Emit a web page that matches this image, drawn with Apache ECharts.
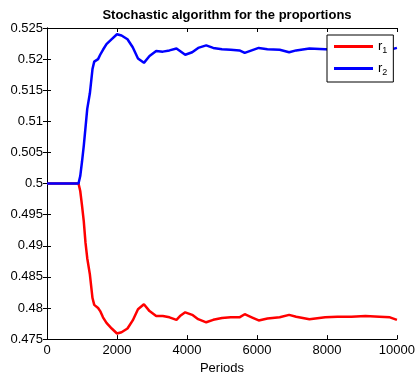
<!DOCTYPE html>
<html>
<head>
<meta charset="utf-8">
<script src="https://cdn.jsdelivr.net/npm/echarts@6/dist/echarts.min.js"></script>
<style>
  html, body { margin: 0; padding: 0; background: #fff; }
  #chart { width: 418px; height: 380px; }
</style>
</head>
<body>
<div id="chart"></div>
<script>
// periods sampled along the curves
const periods = [0, 500, 900, 950, 1000, 1050, 1100, 1150, 1225, 1300, 1350, 1400, 1460, 1520, 1600, 1700, 1850, 2000, 2130, 2300, 2450, 2600, 2770, 2930, 3120, 3310, 3500, 3700, 3800, 3950, 4150, 4320, 4550, 4750, 5000, 5250, 5500, 5650, 5850, 6050, 6300, 6650, 6920, 7120, 7500, 7950, 8300, 8700, 9100, 9500, 9800, 10000];

const r1 = [0.5, 0.5, 0.5, 0.4988, 0.4965, 0.4940, 0.4905, 0.4880, 0.4854, 0.4816, 0.4805, 0.4808, 0.4800, 0.4795, 0.4785, 0.4776, 0.4767, 0.4759, 0.4761, 0.4767, 0.4780, 0.4798, 0.4806, 0.4795, 0.4787, 0.4787, 0.4785, 0.4781, 0.4787, 0.4793, 0.4789, 0.4782, 0.4777, 0.4781, 0.4784, 0.4785, 0.4785, 0.4790, 0.4785, 0.4780, 0.4783, 0.4785, 0.4789, 0.4786, 0.4782, 0.4785, 0.4786, 0.4786, 0.4787, 0.4786, 0.4785, 0.4781];

const r2 = [0.5, 0.5, 0.5, 0.5012, 0.5035, 0.5060, 0.5090, 0.5120, 0.5145, 0.5184, 0.5196, 0.5193, 0.5200, 0.5207, 0.5215, 0.5224, 0.5232, 0.5240, 0.5238, 0.5232, 0.5219, 0.5201, 0.5194, 0.5205, 0.5213, 0.5212, 0.5214, 0.5217, 0.5213, 0.5207, 0.5211, 0.5218, 0.5222, 0.5218, 0.5216, 0.5215, 0.5214, 0.5210, 0.5214, 0.5218, 0.5216, 0.5215, 0.5211, 0.5214, 0.5217, 0.5216, 0.5215, 0.5214, 0.5214, 0.5214, 0.5215, 0.5218];

const seriesNames = ['r1', 'r2'];
const seriesColors = ['#ff0000', '#0000ff'];

const font = '"Liberation Sans", Arial, Helvetica, sans-serif';

const chart = echarts.init(document.getElementById('chart'));

const pairs = arr => periods.map((p, i) => [p, arr[i]]);

const boxAxis = {
  axisLine: { show: true, lineStyle: { color: '#000', width: 1 } },
  axisTick: { show: true, inside: true, length: 4, lineStyle: { color: '#000' } },
  splitLine: { show: false }
};

chart.setOption({
  animation: false,
  backgroundColor: '#fff',
  title: {
    text: 'Stochastic algorithm for the proportions',
    left: 222, top: 4, textAlign: 'center',
    textStyle: { fontFamily: font, fontSize: 13, fontWeight: 'bold', color: '#000' }
  },
  grid: { left: 47, right: 20, top: 28, bottom: 34 },
  legend: {
    left: 327, top: 35,
    orient: 'vertical',
    backgroundColor: '#fff',
    borderColor: '#000', borderWidth: 1,
    padding: [5, 6, 5, 7],
    itemWidth: 39, itemHeight: 3, itemGap: 7,
    icon: 'rect',
    data: seriesNames,
    formatter: name => '{a|r}{s|' + name.slice(1) + '}',
    textStyle: {
      color: '#000', fontFamily: font,
      rich: {
        a: { fontSize: 13, fontFamily: font, color: '#000' },
        s: { fontSize: 9, fontFamily: font, color: '#000', padding: [8, 0, 0, 0] }
      }
    }
  },
  xAxis: [
    Object.assign({}, boxAxis, {
      type: 'value', min: 0, max: 10000, interval: 2000,
      name: 'Periods', nameLocation: 'middle', nameGap: 21,
      nameTextStyle: { fontFamily: font, fontSize: 13, color: '#000' },
      axisLabel: { fontFamily: font, fontSize: 13, color: '#000', margin: 5, formatter: v => String(v) }
    }),
    Object.assign({}, boxAxis, {
      type: 'value', position: 'top', min: 0, max: 10000, interval: 2000,
      axisLabel: { show: false }
    })
  ],
  yAxis: [
    Object.assign({}, boxAxis, {
      type: 'value', min: 0.475, max: 0.525, interval: 0.005,
      axisLabel: {
        fontFamily: font, fontSize: 13, color: '#000', margin: 4,
        formatter: v => String(parseFloat(v.toFixed(3)))
      }
    }),
    Object.assign({}, boxAxis, {
      type: 'value', position: 'right', min: 0.475, max: 0.525, interval: 0.005,
      axisLabel: { show: false }
    })
  ],
  series: [
    { name: seriesNames[0], type: 'line', data: pairs(r1), showSymbol: false,
      color: seriesColors[0], lineStyle: { width: 2.5, color: seriesColors[0] } },
    { name: seriesNames[1], type: 'line', data: pairs(r2), showSymbol: false,
      color: seriesColors[1], lineStyle: { width: 2.5, color: seriesColors[1] } }
  ]
});
</script>
</body>
</html>
